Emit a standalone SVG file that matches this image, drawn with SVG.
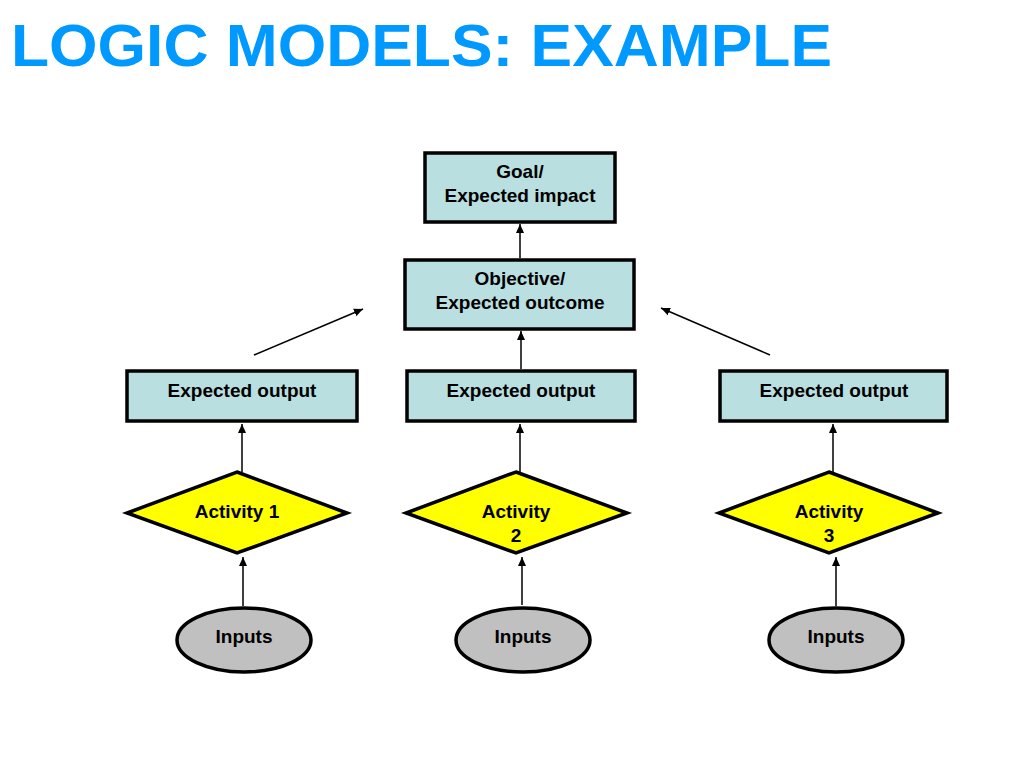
<svg xmlns="http://www.w3.org/2000/svg" width="1024" height="768" viewBox="0 0 1024 768">
<defs>
<style>
.box{fill:#b9dfe0;stroke:#000;stroke-width:3.5}
.dia{fill:#ffff00;stroke:#000;stroke-width:3.5}
.ell{fill:#c0c0c0;stroke:#000;stroke-width:3.5}
.t{font-family:"Liberation Sans",Arial,sans-serif;font-weight:bold;font-size:19px;fill:#000;text-anchor:middle}
.c{stroke:#000;stroke-width:1.5;fill:none;marker-end:url(#ah)}
.title{font-family:"Liberation Sans",Arial,sans-serif;font-weight:bold;font-size:60px;fill:#0099ff}
</style>
<marker id="ah" markerWidth="10" markerHeight="10" refX="9" refY="5" orient="auto" markerUnits="userSpaceOnUse">
<path d="M0,1 L9,5 L0,9 z" fill="#000"/>
</marker>
</defs>
<rect width="1024" height="768" fill="#fff"/>
<text class="title" x="11" y="66" textLength="821" lengthAdjust="spacingAndGlyphs">LOGIC MODELS: EXAMPLE</text>

<g id="goal"><rect class="box" x="425" y="153" width="190" height="69"/><text class="t" x="520" y="178">Goal/</text><text class="t" x="520" y="202">Expected impact</text></g>
<g id="objective"><rect class="box" x="405" y="260" width="229" height="69"/><text class="t" x="520" y="285">Objective/</text><text class="t" x="520" y="309">Expected outcome</text></g>
<g id="output1"><rect class="box" x="127" y="371" width="230" height="50"/><text class="t" x="242" y="397">Expected output</text></g>
<g id="output2"><rect class="box" x="407" y="371" width="228" height="50"/><text class="t" x="521" y="397">Expected output</text></g>
<g id="output3"><rect class="box" x="720" y="371" width="227" height="50"/><text class="t" x="834" y="397">Expected output</text></g>

<g id="activity1"><polygon class="dia" points="237,472 347,513 237,553 127,513"/><text class="t" x="237" y="518">Activity 1</text></g>
<g id="activity2"><polygon class="dia" points="516,472 627,513 516,553 406,513"/><text class="t" x="516" y="518">Activity</text><text class="t" x="516" y="542">2</text></g>
<g id="activity3"><polygon class="dia" points="829,472 938,513 829,553 719,513"/><text class="t" x="829" y="518">Activity</text><text class="t" x="829" y="542">3</text></g>

<g id="inputs1"><ellipse class="ell" cx="244" cy="640" rx="67" ry="32"/><text class="t" x="244" y="643">Inputs</text></g>
<g id="inputs2"><ellipse class="ell" cx="523" cy="640" rx="67" ry="32"/><text class="t" x="523" y="643">Inputs</text></g>
<g id="inputs3"><ellipse class="ell" cx="836" cy="640" rx="67" ry="32"/><text class="t" x="836" y="643">Inputs</text></g>

<g id="connectors">
<line class="c" x1="520" y1="258" x2="520" y2="224"/>
<line class="c" x1="521" y1="369" x2="521" y2="331"/>
<line class="c" x1="254" y1="355" x2="363" y2="309"/>
<line class="c" x1="770" y1="355" x2="661" y2="308"/>
<line class="c" x1="242" y1="472" x2="242" y2="424"/>
<line class="c" x1="520" y1="472" x2="520" y2="424"/>
<line class="c" x1="833" y1="472" x2="833" y2="424"/>
<line class="c" x1="243" y1="606" x2="243" y2="557"/>
<line class="c" x1="522" y1="605" x2="522" y2="557"/>
<line class="c" x1="836" y1="606" x2="836" y2="557"/>
</g>
</svg>
